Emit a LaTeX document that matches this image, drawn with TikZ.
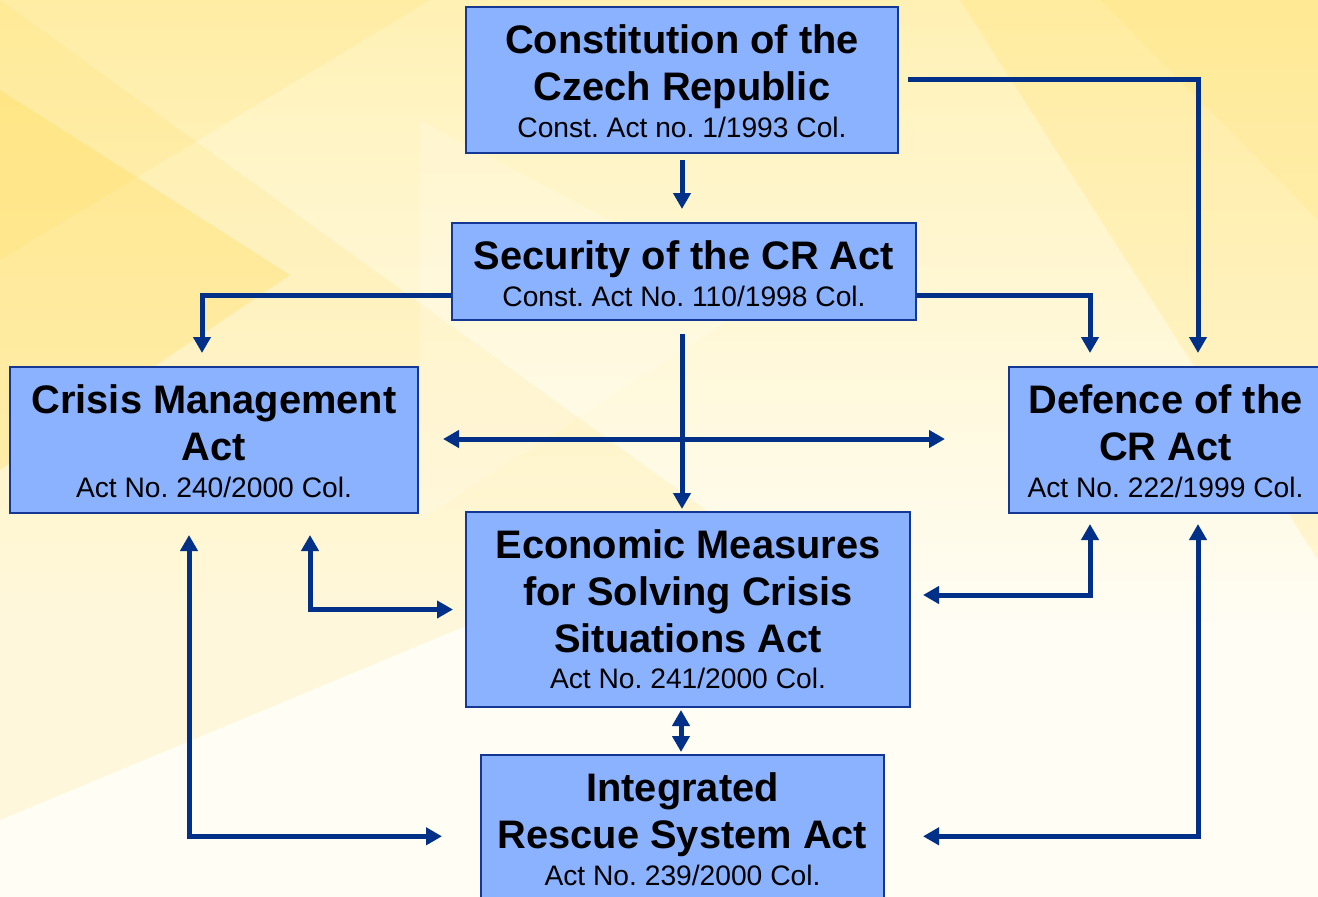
\documentclass[tikz,border=0pt]{standalone}
\usepackage{fontspec}
\setmainfont{Liberation Sans}
\usetikzlibrary{arrows.meta,calc}
\definecolor{boxfill}{RGB}{139,178,255}
\definecolor{boxline}{RGB}{20,55,150}
\definecolor{arrblue}{RGB}{0,48,135}
\definecolor{bgtop}{RGB}{255,229,118}
\definecolor{bgmid}{RGB}{255,244,196}
\definecolor{bgbot}{RGB}{255,253,244}
\definecolor{bgyel}{RGB}{255,214,60}
\newcommand{\ttlfont}{\bfseries\fontsize{39.8}{46.7}\selectfont}
\newcommand{\subfont}{\mdseries\fontsize{28.2}{33}\selectfont}
\pgfdeclareverticalshading{bgshade}{100bp}{color(0bp)=(bgbot); color(40bp)=(bgbot); color(68bp)=(bgmid); color(100bp)=(bgtop)}
\tikzset{
  lawbox/.style={draw=boxline, line width=2pt, fill=boxfill, inner sep=0pt,
    text height=46.6pt, anchor=north},
  arr/.style={draw=arrblue, line width=5pt, line join=miter,
    -{Triangle[length=16pt,width=17pt]}},
  darr/.style={draw=arrblue, line width=5pt, line join=miter,
    {Triangle[length=16pt,width=17pt]}-{Triangle[length=16pt,width=17pt]}}
}
\frenchspacing
\begin{document}
\begin{tikzpicture}[x=1pt,y=-1pt]
% background
\useasboundingbox (0,0) rectangle (1318,897);
\shade[shading=bgshade] (0,0) rectangle (1318,897);
\fill[bgyel, opacity=0.13] (0,0) -- (720,520) -- (0,820) -- cycle;
\fill[bgyel, opacity=0.26] (0,90) -- (290,275) -- (0,470) -- cycle;
\fill[bgyel, opacity=0.12] (0,0) -- (430,0) -- (0,260) -- cycle;
\fill[bgyel, opacity=0.17] (960,0) -- (1318,0) -- (1318,560) -- cycle;
\fill[bgyel, opacity=0.10] (1100,0) -- (1318,220) -- (1318,0) -- cycle;
\fill[white, opacity=0.18] (420,120) -- (760,300) -- (420,520) -- cycle;

% boxes
\node[lawbox, text depth=99.4pt] (c1) at (682,6)
  {\parbox[t]{432pt}{\centering\ttlfont Constitution of the\\Czech Republic\\[-10pt]{\subfont Const. Act no. 1/1993 Col.}}};
\node[lawbox, text depth=50.4pt] (c2) at (684,222)
  {\parbox[t]{464pt}{\centering\ttlfont Security of the CR Act\\[-10pt]{\subfont Const. Act No. 110/1998 Col.}}};
\node[lawbox, text depth=99.4pt] (c3) at (214,366)
  {\parbox[t]{408pt}{\centering\ttlfont Crisis Management\\Act\\[-10pt]{\subfont Act No. 240/2000 Col.}}};
\node[lawbox, text depth=99.4pt] (c4) at (1165.5,366)
  {\parbox[t]{313pt}{\centering\ttlfont Defence of the\\CR Act\\[-10pt]{\subfont Act No. 222/1999 Col.}}};
\node[lawbox, text depth=148.4pt] (c5) at (688,511)
  {\parbox[t]{444pt}{\centering\ttlfont Economic Measures\\for Solving Crisis\\Situations Act\\[-10pt]{\subfont Act No. 241/2000 Col.}}};
\node[lawbox, text depth=104pt] (c6) at (682.5,754)
  {\parbox[t]{403pt}{\centering\ttlfont Integrated\\Rescue System Act\\[-10pt]{\subfont Act No. 239/2000 Col.}}};

% connectors
\draw[arr] ($(c1.south)+(0,6)$) -- ($(c1.south |- c2.north)+(0,-13)$);
\draw[arr] ($(c1.east)+(9,-1)$) -| ($(c4.north)+(32.5,-13)$);
\draw[arr] ($(c2.west)+(0,23.5)$) -| ($(c3.north)+(-12,-13)$);
\draw[arr] ($(c2.east)+(0,23.5)$) -| ($(c4.north)+(-75.5,-13)$);
\draw[arr] ($(c2.south)+(-2,13)$) -- ($(c5.north)+(-6,-2)$);
\draw[darr] ($(c3.east)+(24,-1)$) -- ($(c4.west)+(-63,-1)$);
\draw[darr] ($(c3.south)+(96,21)$) |- ($(c5.west)+(-12,0)$);
\draw[darr] ($(c3.south)+(-25,21)$) |- ($(c6.west)+(-38,6)$);
\draw[darr] ($(c5.east)+(12,-14.5)$) -| ($(c4.south)+(-75.5,10)$);
\draw[darr] ($(c6.east)+(38,6)$) -| ($(c4.south)+(32.5,10)$);
\draw[darr] ($(c5.south)+(-7,2)$) -- ($(c5.south |- c6.north)+(-7,-2)$);
\end{tikzpicture}
\end{document}
